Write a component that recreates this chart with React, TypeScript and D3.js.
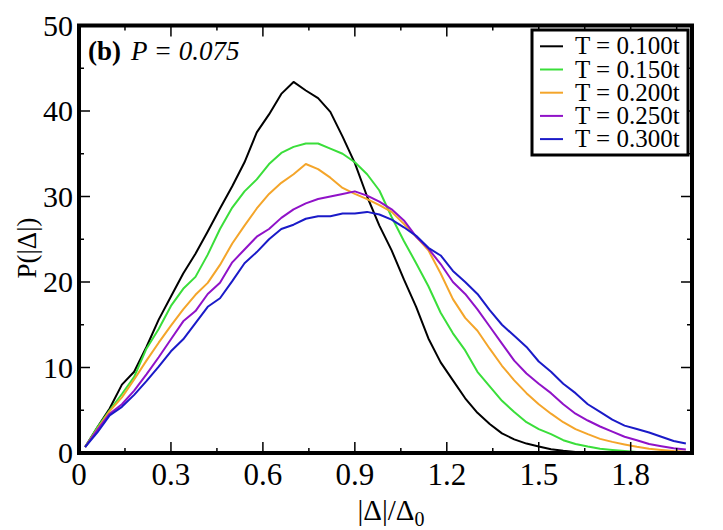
import * as d3 from "d3";

// |Δ|/Δ0 sample points (shared by all series)
const xValues = [
  0.02, 0.06, 0.1, 0.14, 0.18, 0.22, 0.26, 0.3, 0.34, 0.38, 0.42, 0.46, 0.5,
  0.54, 0.58, 0.62, 0.66, 0.7, 0.74, 0.78, 0.82, 0.86, 0.9, 0.94, 0.98, 1.02,
  1.06, 1.1, 1.14, 1.18, 1.22, 1.26, 1.3, 1.34, 1.38, 1.42, 1.46, 1.5, 1.54,
  1.58, 1.62, 1.66, 1.7, 1.74, 1.78, 1.82, 1.86, 1.9, 1.94, 1.98,
];

const seriesT100 = [
  0.7, 3.0, 5.2, 8.0, 9.5, 12.4, 15.6, 18.3, 21.0, 23.3, 25.9, 28.6, 31.2,
  34.0, 37.5, 39.6, 42.0, 43.4, 42.4, 41.5, 39.9, 37.0, 33.9, 30.0, 26.6, 23.7,
  20.3, 17.1, 13.4, 10.6, 8.5, 6.4, 4.7, 3.4, 2.3, 1.6, 1.1, 0.75, 0.45, 0.25,
  0.12, 0.05, 0.02, 0, 0, 0, 0, 0, 0, 0,
];

const seriesT150 = [
  0.7, 3.0, 5.0, 6.9, 8.9, 12.2, 14.5, 17.2, 19.2, 20.6, 23.2, 26.2, 28.7,
  30.6, 32.0, 33.8, 35.1, 35.8, 36.2, 36.2, 35.6, 35.0, 34.0, 32.6, 30.7, 27.6,
  24.8, 22.2, 19.5, 16.4, 14.0, 12.0, 9.5, 7.8, 6.1, 4.8, 3.6, 2.8, 2.2, 1.5,
  1.05, 0.75, 0.5, 0.35, 0.22, 0.12, 0.06, 0.03, 0.01, 0,
];

const seriesT200 = [
  0.7, 2.8, 4.9, 6.5, 8.6, 10.8, 12.9, 14.9, 16.8, 18.5, 19.9, 22.0, 24.5,
  26.6, 28.6, 30.3, 31.6, 32.6, 33.8, 33.2, 32.2, 31.0, 30.3, 29.7, 29.0, 28.2,
  26.8, 25.3, 23.7, 21.0, 18.0, 15.8, 14.3, 12.2, 10.2, 8.5, 7.0, 5.7, 4.6,
  3.6, 2.8, 2.2, 1.65, 1.3, 1.0, 0.72, 0.5, 0.35, 0.22, 0.15,
];

const seriesT250 = [
  0.7, 2.7, 4.6, 5.7, 7.3, 9.2, 11.2, 13.3, 15.4, 16.6, 18.6, 19.9, 22.3, 23.8,
  25.3, 26.2, 27.5, 28.5, 29.2, 29.7, 30.0, 30.3, 30.6, 30.1, 29.4, 28.5, 27.2,
  25.3, 23.9, 22.1, 20.0, 18.6, 16.8, 14.8, 12.8, 10.8, 9.3, 8.1, 7.0, 5.7,
  4.6, 3.8, 3.1, 2.5, 1.9, 1.5, 1.05, 0.8, 0.55, 0.4,
];

const seriesT300 = [
  0.7, 2.4, 4.4, 5.4, 6.8, 8.4, 10.1, 11.9, 13.3, 15.2, 17.1, 18.1, 20.1, 22.2,
  23.5, 25.0, 26.2, 26.7, 27.4, 27.7, 27.7, 28.0, 28.0, 28.2, 27.9, 27.3, 26.4,
  25.4, 24.0, 23.1, 21.3, 20.0, 18.6, 16.7, 15.0, 13.7, 12.4, 10.7, 9.5, 8.1,
  7.0, 5.7, 4.8, 3.9, 3.2, 2.8, 2.4, 1.9, 1.4, 1.1,
];

const seriesLabels = [
  "T = 0.100t",
  "T = 0.150t",
  "T = 0.200t",
  "T = 0.250t",
  "T = 0.300t",
];
const seriesColors = ["#000000", "#3ade3a", "#f4a52a", "#9012c8", "#1a1ac8"];
const allSeries = [seriesT100, seriesT150, seriesT200, seriesT250, seriesT300];

const xTicks = [0, 0.3, 0.6, 0.9, 1.2, 1.5, 1.8];
const xTickLabels = ["0", "0.3", "0.6", "0.9", "1.2", "1.5", "1.8"];
const xMinorTicks = [0.15, 0.45, 0.75, 1.05, 1.35, 1.65, 1.95];
const yTicks = [0, 10, 20, 30, 40, 50];
const yMinorTicks = [5, 15, 25, 35, 45];

const left = 79;
const right = 692;
const top = 25.5;
const bottom = 453;
const font = '"Liberation Serif"';

export default function App() {
  const x = d3.scaleLinear().domain([0, 2]).range([left, right]);
  const y = d3.scaleLinear().domain([0, 50]).range([bottom, top]);

  const line = d3
    .line<number>()
    .x((_, i) => x(xValues[i]))
    .y((d) => y(d));

  const xTickLines = (vals: number[], len: number) =>
    vals.flatMap((v) => [
      <line key={`xb${v}`} x1={x(v)} x2={x(v)} y1={bottom} y2={bottom - len} />,
      <line key={`xt${v}`} x1={x(v)} x2={x(v)} y1={top} y2={top + len} />,
    ]);
  const yTickLines = (vals: number[], len: number) =>
    vals.flatMap((v) => [
      <line key={`yl${v}`} y1={y(v)} y2={y(v)} x1={left} x2={left + len} />,
      <line key={`yr${v}`} y1={y(v)} y2={y(v)} x1={right} x2={right - len} />,
    ]);

  return (
    <svg
      width={723}
      height={530}
      style={{ position: "absolute", left: 0, top: 0, background: "#fff", fontFamily: font }}
    >
      {/* curves */}
      {allSeries.map((s, i) => (
        <path
          key={seriesLabels[i]}
          d={line(s) ?? ""}
          fill="none"
          stroke={seriesColors[i]}
          strokeWidth={2}
          strokeLinejoin="round"
        />
      ))}

      {/* inward ticks on all sides */}
      <g stroke="#000" strokeWidth={1.5}>
        {xTickLines(xTicks, 11)}
        {xTickLines(xMinorTicks, 5)}
        {yTickLines(yTicks, 11)}
        {yTickLines(yMinorTicks, 5)}
      </g>

      {/* frame */}
      <rect
        x={left}
        y={top}
        width={right - left}
        height={bottom - top}
        fill="none"
        stroke="#000"
        strokeWidth={4}
      />

      {/* tick labels */}
      {xTicks.map((v, i) => (
        <text key={`xl${v}`} x={x(v)} y={485} textAnchor="middle" style={{ fontFamily: font, fontSize: 31 }}>
          {xTickLabels[i]}
        </text>
      ))}
      {yTicks.map((v) => (
        <text key={`yl${v}`} x={73} y={y(v) + 10} textAnchor="end" style={{ fontFamily: font, fontSize: 30 }}>
          {String(v)}
        </text>
      ))}

      {/* axis titles */}
      <text
        transform="translate(36,248) rotate(-90)"
        textAnchor="middle"
        style={{ fontFamily: font, fontSize: 27 }}
      >
        P(|Δ|)
      </text>
      <text x={391} y={520} textAnchor="middle" style={{ fontFamily: font, fontSize: 29 }}>
        <tspan>|Δ|/Δ</tspan>
        <tspan dy={6} style={{ fontSize: 20 }}>
          0
        </tspan>
      </text>

      {/* panel annotation */}
      <text x={88} y={60} style={{ fontFamily: font, fontSize: 27 }}>
        <tspan style={{ fontWeight: "bold" }}>(b)</tspan>
        <tspan dx={10} style={{ fontStyle: "italic" }}>
          P = 0.075
        </tspan>
      </text>

      {/* legend */}
      <g>
        <rect x={532} y={30} width={156} height={125} fill="#fff" stroke="#000" strokeWidth={3} />
        {seriesLabels.map((label, i) => {
          const cy = 46.3 + i * 23.2;
          return (
            <g key={label}>
              <line x1={540} x2={563} y1={cy} y2={cy} stroke={seriesColors[i]} strokeWidth={2} />
              <text x={575} y={cy + 8} style={{ fontFamily: font, fontSize: 25 }}>
                {label}
              </text>
            </g>
          );
        })}
      </g>
    </svg>
  );
}
